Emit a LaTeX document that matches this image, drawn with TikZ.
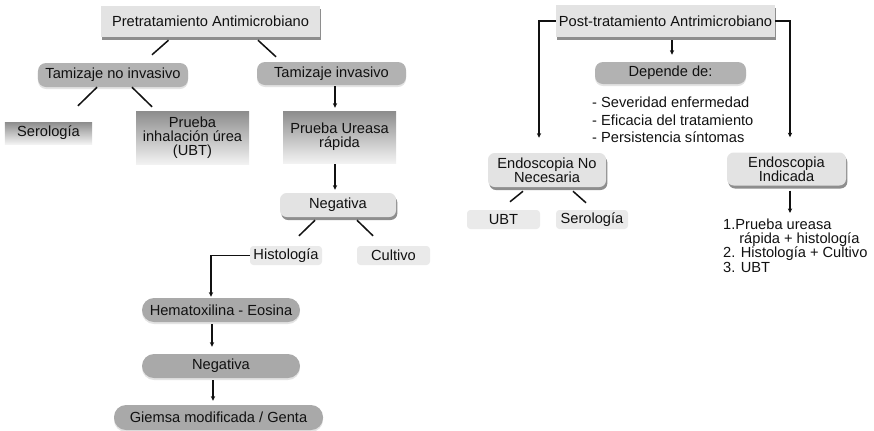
\documentclass[tikz,border=0pt]{standalone}
\usepackage{fontspec}
\setmainfont{Liberation Sans}
\usetikzlibrary{arrows.meta, calc, shadows}
\definecolor{hpLight}{HTML}{E3E3E3}
\definecolor{hpChip}{HTML}{EAEAEA}
\definecolor{hpDark}{HTML}{B2B2B2}
\definecolor{hpPill}{HTML}{A9A9A9}
\definecolor{hpShadow}{HTML}{8E8E8E}
\definecolor{hpInk}{HTML}{111111}
\tikzset{
  base/.style={
    draw=none, inner sep=1pt, align=center,
    font=\fontsize{12.5}{12}\selectfont, text=hpInk
  },
  caja/.style={base, fill=hpLight,
    drop shadow={shadow xshift=0.4mm, shadow yshift=-0.9mm, fill=hpShadow, opacity=1}},
  suave/.style={caja, rounded corners=2mm},
  pill/.style={base, fill=hpDark, rounded corners=2.4mm,
    drop shadow={shadow xshift=0mm, shadow yshift=-0.6mm, fill=hpLight, opacity=1}},
  capsula/.style={pill, fill=hpPill, rounded corners=3.6mm},
  chip/.style={base, fill=hpChip, rounded corners=1mm},
  grad/.style={base, top color=black!45, bottom color=black!5},
  lista/.style={font=\fontsize{12.5}{12}\selectfont, text=hpInk, align=left, inner sep=0pt},
  flow/.style={-{Stealth[length=1.4mm, width=1.3mm]}, line width=1.3pt, draw=hpInk},
  stub/.style={line width=1.3pt, draw=hpInk},
}
\begin{document}
\begin{tikzpicture}[x=0.3mm, y=-0.3mm]
  \useasboundingbox (0,0) rectangle (874,430);

  % Pretratamiento
  \node[caja, minimum width=65.7mm, minimum height=9.3mm] (pre) at (210.5,21.5) {Pretratamiento Antimicrobiano};
  \node[pill, minimum width=45mm, minimum height=7.2mm] (tni) at (113,75) {Tamizaje no invasivo};
  \node[pill, minimum width=44.7mm, minimum height=6.9mm] (tinv) at (331.5,73.5) {Tamizaje invasivo};
  \draw[stub] ($(pre.south)+(-42,3)$) -- ($(tni.north)+(39,-8)$);
  \draw[stub] ($(pre.south)+(47.5,3)$) -- ($(tinv.north)+(-55.5,-5)$);

  \node[grad, minimum width=26.1mm, minimum height=6.6mm] (sero1) at (48.5,133) {Serología};
  \node[grad, minimum width=33.9mm, minimum height=15.9mm] (ubt1) at (192.5,137.5) {Prueba\\inhalación úrea\\(UBT)};
  \draw[stub] ($(tni.south)+(-16,0)$) -- ($(sero1.north)+(29.5,-16)$);
  \draw[stub] ($(tni.south)+(19,0)$) -- ($(ubt1.north)+(-40.5,-4)$);

  \node[grad, minimum width=33.9mm, minimum height=15.6mm] (pur) at (339.5,137) {Prueba Ureasa\\rápida};
  \node[suave, minimum width=34.8mm, minimum height=7.2mm] (neg1) at (338,205) {Negativa};
  \draw[flow] ($(tinv.south)+(3.5,1)$) -- ($(pur.north)+(-4.5,-3)$);
  \draw[flow] ($(pur.south)+(-4.5,1)$) -- ($(neg1.north)+(-3,-3)$);

  \node[chip, minimum width=21.6mm, minimum height=5.7mm] (histo) at (286,255.5) {Histología};
  \node[chip, minimum width=21.9mm, minimum height=5.7mm] (cult) at (393.5,255.5) {Cultivo};
  \draw[stub] ($(neg1.south)+(-23,3)$) -- ($(histo.north)+(13,-10)$);
  \draw[stub] ($(neg1.south)+(19,3)$) -- ($(cult.north)+(-20.5,-10)$);

  \node[capsula, minimum width=47.4mm, minimum height=7.2mm] (hema) at (221,310) {Hematoxilina - Eosina};
  \node[capsula, minimum width=47.4mm, minimum height=7.2mm] (neg2) at (221,366) {Negativa};
  \node[capsula, minimum width=62.7mm, minimum height=7.5mm] (giem) at (218.5,417.5) {Giemsa modificada / Genta};
  \draw[flow] (histo.west) -| ($(hema.north)+(-10,-1)$);
  \draw[flow] ($(hema.south)+(-9,2)$) -- ($(neg2.north)+(-9,-7)$);
  \draw[flow] ($(neg2.south)+(-8,2)$) -- ($(giem.north)+(-5.5,-4)$);

  % Post-tratamiento
  \node[caja, minimum width=65.7mm, minimum height=9.6mm] (post) at (665.5,21) {Post-tratamiento Antrimicrobiano};
  \node[pill, minimum width=45.3mm, minimum height=6.6mm] (dep) at (670.5,73) {Depende de:};
  \node[lista, anchor=north west, text depth=0pt] (crit) at (592,97)
    {- Severidad enfermedad\\[3pt]- Eficacia del tratamiento\\[3pt]- Persistencia síntomas};
  \draw[flow] ($(post.south)+(6.5,3)$) -- ($(dep.north)+(1.5,-7)$);

  \node[suave, minimum width=35.4mm, minimum height=10.2mm] (endn) at (547,170) {Endoscopia No\\Necesaria};
  \node[suave, minimum width=35.7mm, minimum height=9.9mm] (endi) at (786.5,169) {Endoscopia\\Indicada};
  \draw[flow] (post.west) -| ($(endn.north)+(-8,-15)$);
  \draw[flow] (post.east) -| ($(endi.north)+(3.5,-15)$);

  \node[chip, minimum width=21.9mm, minimum height=5.7mm] (ubt2) at (503.5,219.5) {UBT};
  \node[chip, minimum width=21.6mm, minimum height=5.7mm] (sero2) at (592,219.5) {Serología};
  \draw[stub] ($(endn.south)+(-24,4)$) -- ($(ubt2.north)+(6.5,-8)$);
  \draw[stub] ($(endn.south)+(26,4)$) -- ($(sero2.north)+(-6,-7)$);

  \node[lista, anchor=north west] (pasos) at (723,219)
    {1.Prueba ureasa\\\hspace*{1.1em}rápida + histología\\2. Histología + Cultivo\\3. UBT};
  \draw[flow] ($(endi.south)+(3.5,5)$) -- ($(pasos.north west)+(67,-6)$);
\end{tikzpicture}
\end{document}
